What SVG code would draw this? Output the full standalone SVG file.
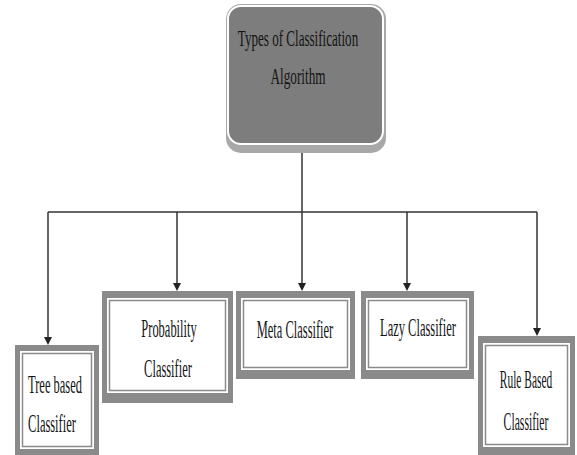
<svg xmlns="http://www.w3.org/2000/svg" width="577" height="455" viewBox="0 0 577 455">
<style>
.txt{font-family:"Liberation Serif","Times New Roman",serif;fill:#141414;text-anchor:middle}
.top{font-size:24px}
.lbl{font-size:26px}
.frame{fill:#8a8a8a}
.gap{fill:#ffffff}
.inner{fill:#ffffff;stroke:#8a8a8a;stroke-width:1.5}
.conn{stroke:#333333;stroke-width:1.5;fill:none}
.head{fill:#222222}
</style>
<rect width="577" height="455" fill="#ffffff"/>
<g id="connectors">
<line class="conn" x1="302" y1="152" x2="302" y2="212"/>
<line class="conn" x1="48" y1="212" x2="537" y2="212"/>
<line class="conn" x1="48" y1="212" x2="48" y2="340"/>
<line class="conn" x1="177" y1="212" x2="177" y2="286"/>
<line class="conn" x1="302" y1="212" x2="302" y2="286"/>
<line class="conn" x1="407" y1="212" x2="407" y2="286"/>
<line class="conn" x1="537" y1="212" x2="537" y2="331"/>
<path class="head" d="M44,337 L52,337 L48,345 Z"/>
<path class="head" d="M173,283 L181,283 L177,291 Z"/>
<path class="head" d="M298,283 L306,283 L302,291 Z"/>
<path class="head" d="M403,283 L411,283 L407,291 Z"/>
<path class="head" d="M533,328 L541,328 L537,336 Z"/>
</g>
<g id="root">
<rect x="226" y="4" width="160" height="149" rx="15" fill="#a8a8a8"/>
<rect x="228" y="6" width="155" height="138" rx="13" fill="#7d7d7d" stroke="#ffffff" stroke-width="2"/>
<text class="txt top" transform="translate(298,46) scale(0.545,1)">Types of Classification</text>
<text class="txt top" transform="translate(298,84) scale(0.55,1)">Algorithm</text>
</g>
<g id="tree">
<rect class="frame" x="15" y="345" width="84" height="110"/>
<rect class="gap" x="20" y="351" width="74" height="98"/>
<rect class="inner" x="22.5" y="353.5" width="69" height="93"/>
<text class="txt lbl" transform="translate(55,393) scale(0.48,1)">Tree based</text>
<text class="txt lbl" transform="translate(52,432) scale(0.48,1)">Classifier</text>
</g>
<g id="probability">
<rect class="frame" x="102" y="291" width="131" height="112"/>
<rect class="gap" x="107" y="298" width="121" height="95"/>
<rect class="inner" x="109.5" y="300.5" width="116" height="90"/>
<text class="txt lbl" transform="translate(169,337) scale(0.48,1)">Probability</text>
<text class="txt lbl" transform="translate(168,377) scale(0.48,1)">Classifier</text>
</g>
<g id="meta">
<rect class="frame" x="236" y="291" width="119" height="88"/>
<rect class="gap" x="241" y="298" width="109" height="72"/>
<rect class="inner" x="243.5" y="300.5" width="104" height="67"/>
<text class="txt lbl" transform="translate(295,338) scale(0.48,1)">Meta Classifier</text>
</g>
<g id="lazy">
<rect class="frame" x="361" y="291" width="113" height="88"/>
<rect class="gap" x="366" y="298" width="103" height="72"/>
<rect class="inner" x="368.5" y="300.5" width="98" height="67"/>
<text class="txt lbl" transform="translate(418,336) scale(0.48,1)">Lazy Classifier</text>
</g>
<g id="rule">
<rect class="frame" x="478" y="336" width="97" height="119"/>
<rect class="gap" x="483" y="343" width="87" height="104"/>
<rect class="inner" x="485.5" y="345.5" width="82" height="99"/>
<text class="txt lbl" transform="translate(526,388) scale(0.44,1)">Rule Based</text>
<text class="txt lbl" transform="translate(526,430) scale(0.45,1)">Classifier</text>
</g>
</svg>
